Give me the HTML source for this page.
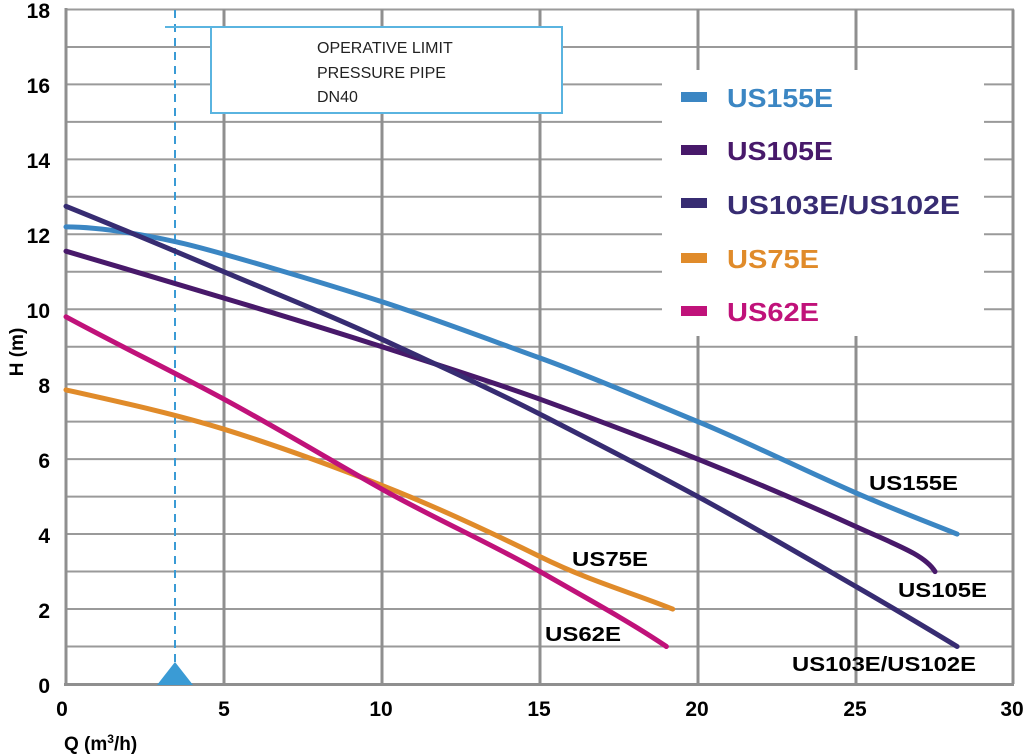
<!DOCTYPE html>
<html><head><meta charset="utf-8"><style>
html,body{margin:0;padding:0;background:#fff}
svg{display:block;font-family:"Liberation Sans",sans-serif}
</style></head><body>
<svg width="1024" height="754" viewBox="0 0 1024 754" xmlns="http://www.w3.org/2000/svg">
<g stroke="#9a9a9a" stroke-width="2">
<line x1="66" y1="9.5" x2="1014" y2="9.5"/>
<line x1="66" y1="47" x2="1014" y2="47"/>
<line x1="66" y1="84.4" x2="1014" y2="84.4"/>
<line x1="66" y1="121.9" x2="1014" y2="121.9"/>
<line x1="66" y1="159.4" x2="1014" y2="159.4"/>
<line x1="66" y1="196.8" x2="1014" y2="196.8"/>
<line x1="66" y1="234.3" x2="1014" y2="234.3"/>
<line x1="66" y1="271.8" x2="1014" y2="271.8"/>
<line x1="66" y1="309.2" x2="1014" y2="309.2"/>
<line x1="66" y1="346.7" x2="1014" y2="346.7"/>
<line x1="66" y1="384.2" x2="1014" y2="384.2"/>
<line x1="66" y1="421.6" x2="1014" y2="421.6"/>
<line x1="66" y1="459.1" x2="1014" y2="459.1"/>
<line x1="66" y1="496.6" x2="1014" y2="496.6"/>
<line x1="66" y1="534" x2="1014" y2="534"/>
<line x1="66" y1="571.5" x2="1014" y2="571.5"/>
<line x1="66" y1="609" x2="1014" y2="609"/>
<line x1="66" y1="646.5" x2="1014" y2="646.5"/>
</g>
<g stroke="#8f8f8f" stroke-width="3">
<line x1="224" y1="9.5" x2="224" y2="684"/>
<line x1="382" y1="9.5" x2="382" y2="684"/>
<line x1="540" y1="9.5" x2="540" y2="684"/>
<line x1="698" y1="9.5" x2="698" y2="684"/>
<line x1="856" y1="9.5" x2="856" y2="684"/>
<line x1="1013" y1="9.5" x2="1013" y2="684"/>
<line x1="66" y1="8" x2="66" y2="686"/>
<line x1="64" y1="684.5" x2="1014" y2="684.5"/>
</g>
<rect x="662" y="70" width="322" height="266" fill="#fff"/>
<g fill="#000" font-weight="bold" font-size="21" text-anchor="end">
<text x="50" y="18">18</text><text x="50" y="93">16</text><text x="50" y="168">14</text>
<text x="50" y="243">12</text><text x="50" y="318">10</text><text x="50" y="393">8</text>
<text x="50" y="468">6</text><text x="50" y="543">4</text><text x="50" y="618">2</text>
<text x="50" y="693">0</text>
</g>
<g fill="#000" font-weight="bold" font-size="21" text-anchor="middle">
<text x="62" y="716">0</text><text x="224" y="716">5</text><text x="381" y="716">10</text>
<text x="539" y="716">15</text><text x="697" y="716">20</text><text x="855" y="716">25</text>
<text x="1012" y="716">30</text>
</g>
<text x="64" y="750" font-weight="bold" font-size="19">Q (m<tspan font-size="12" dy="-7">3</tspan><tspan dy="7">/h)</tspan></text>
<text transform="translate(23,352) rotate(-90)" font-weight="bold" font-size="19" text-anchor="middle">H (m)</text>
<line x1="175" y1="10" x2="175" y2="665" stroke="#3a9bd5" stroke-width="2" stroke-dasharray="8,6"/>
<polygon points="157,685 193,685 175,662" fill="#3a9bd5"/>
<line x1="165" y1="27" x2="211" y2="27" stroke="#5ab4e0" stroke-width="2"/>
<rect x="211" y="27" width="351" height="86" fill="#fff" stroke="#5ab4e0" stroke-width="2"/>
<g font-size="16" fill="#222"><text x="317" y="53">OPERATIVE LIMIT</text><text x="317" y="78">PRESSURE PIPE</text><text x="317" y="102">DN40</text></g>
<g fill="none" stroke-width="5" stroke-linecap="round">
<path stroke="#3b86c3" d="M66,226.9 C100,226.9 140,234 176.6,241.9 S330,285 382,301.8 S490,340 540,358 S650,402 698,421.7 S810,473 856,492.9 S935,525 957.1,534.1"/>
<path stroke="#48196a" d="M66,251.2 C120,267 170,282 224,298.1 S330,330 382,346.8 S490,381 540,399.2 S645,438 698,459.2 S815,508 856,526.6 S925,555 935,571.6"/>
<path stroke="#372c72" d="M66,206.3 C120,228 170,249 224,271.8 S330,315 382,339.3 S485,386 540,414.2 S645,468 698,496.7 S810,560 856,586.6 S930,630 957.1,646.5"/>
<path stroke="#e08b2a" d="M66,389.9 C120,402 175,414 224,429.2 S330,465 382,485.4 S490,532 540,556.6 S630,592 672.7,609.1"/>
<path stroke="#c0127a" d="M66,316.8 C120,346 170,370 224,399.2 S330,460 382,489.2 S490,543 540,571.6 S630,622 666.4,646.5"/>
</g>
<g font-weight="bold" font-size="20" fill="#000">
<text x="869" y="490" textLength="89" lengthAdjust="spacingAndGlyphs">US155E</text>
<text x="898" y="597" textLength="89" lengthAdjust="spacingAndGlyphs">US105E</text>
<text x="792" y="671" textLength="184" lengthAdjust="spacingAndGlyphs">US103E/US102E</text>
<text x="572" y="566" textLength="76" lengthAdjust="spacingAndGlyphs">US75E</text>
<text x="545" y="641" textLength="76" lengthAdjust="spacingAndGlyphs">US62E</text>
</g>
<rect x="681" y="92" width="26" height="10" fill="#3b86c3"/>
<rect x="681" y="145" width="26" height="10" fill="#48196a"/>
<rect x="681" y="198" width="26" height="10" fill="#372c72"/>
<rect x="681" y="253" width="26" height="10" fill="#e08b2a"/>
<rect x="681" y="306" width="26" height="10" fill="#c0127a"/>
<g font-weight="bold" font-size="26">
<text x="727" y="107" fill="#3b86c3" textLength="106" lengthAdjust="spacingAndGlyphs">US155E</text>
<text x="727" y="160" fill="#48196a" textLength="106" lengthAdjust="spacingAndGlyphs">US105E</text>
<text x="727" y="214" fill="#372c72" textLength="233" lengthAdjust="spacingAndGlyphs">US103E/US102E</text>
<text x="727" y="268" fill="#e08b2a" textLength="92" lengthAdjust="spacingAndGlyphs">US75E</text>
<text x="727" y="321" fill="#c0127a" textLength="92" lengthAdjust="spacingAndGlyphs">US62E</text>
</g>
</svg>
</body></html>
